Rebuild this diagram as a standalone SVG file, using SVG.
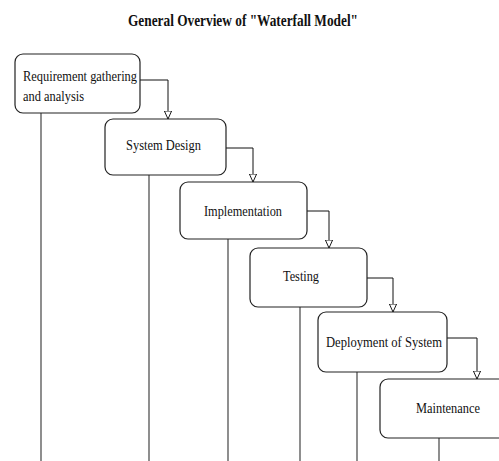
<svg xmlns="http://www.w3.org/2000/svg" width="499" height="461" viewBox="0 0 499 461">
<style>
.box{fill:#fff;stroke:#222;stroke-width:1.2}
.lbl{font-family:"Liberation Serif","Times New Roman",serif;font-size:15px;fill:#111}
.conn{fill:none;stroke:#111;stroke-width:1}
.life{stroke:#444;stroke-width:1.2}
.title{font-family:"Liberation Serif","Times New Roman",serif;font-size:16px;font-weight:bold;fill:#111}
</style>
<defs>
<marker id="tri" viewBox="0 0 10 10" refX="10" refY="5" markerWidth="8" markerHeight="8" orient="auto" markerUnits="userSpaceOnUse">
<path d="M0,0.5 L10,5 L0,9.5 Z" fill="#fff" stroke="#111" stroke-width="1.2"/>
</marker>
</defs>
<rect width="499" height="461" fill="#fff"/>
<text class="title" x="128" y="26" textLength="230" lengthAdjust="spacingAndGlyphs">General Overview of "Waterfall Model"</text>
<g id="lifelines">
<line class="life" x1="41" y1="113" x2="41" y2="461"/>
<line class="life" x1="149" y1="175" x2="149" y2="461"/>
<line class="life" x1="228" y1="239" x2="228" y2="461"/>
<line class="life" x1="300" y1="307" x2="300" y2="461"/>
<line class="life" x1="357" y1="372" x2="357" y2="461"/>
<line class="life" x1="439" y1="438" x2="439" y2="461"/>
</g>
<g id="connectors">
<path class="conn" d="M140,80 H168 V119" marker-end="url(#tri)"/>
<path class="conn" d="M226,148 H253 V182" marker-end="url(#tri)"/>
<path class="conn" d="M307,211 H329 V248" marker-end="url(#tri)"/>
<path class="conn" d="M367,278 H393 V312" marker-end="url(#tri)"/>
<path class="conn" d="M447,338 H477 V379" marker-end="url(#tri)"/>
</g>
<g id="n1">
<rect class="box" x="15" y="54" width="125" height="59" rx="8"/>
<text class="lbl" x="23" y="81" textLength="114" lengthAdjust="spacingAndGlyphs">Requirement gathering</text>
<text class="lbl" x="23" y="101" textLength="61" lengthAdjust="spacingAndGlyphs">and analysis</text>
</g>
<g id="n2">
<rect class="box" x="105" y="119" width="121" height="56" rx="8"/>
<text class="lbl" x="126" y="150" textLength="75" lengthAdjust="spacingAndGlyphs">System Design</text>
</g>
<g id="n3">
<rect class="box" x="180" y="182" width="127" height="57" rx="8"/>
<text class="lbl" x="204" y="216" textLength="78" lengthAdjust="spacingAndGlyphs">Implementation</text>
</g>
<g id="n4">
<rect class="box" x="250" y="248" width="117" height="59" rx="8"/>
<text class="lbl" x="283" y="281" textLength="36" lengthAdjust="spacingAndGlyphs">Testing</text>
</g>
<g id="n5">
<rect class="box" x="318" y="312" width="129" height="60" rx="8"/>
<text class="lbl" x="326" y="347" textLength="116" lengthAdjust="spacingAndGlyphs">Deployment of System</text>
</g>
<g id="n6">
<rect class="box" x="380" y="379" width="130" height="59" rx="8"/>
<text class="lbl" x="416" y="413" textLength="64" lengthAdjust="spacingAndGlyphs">Maintenance</text>
</g>
</svg>
